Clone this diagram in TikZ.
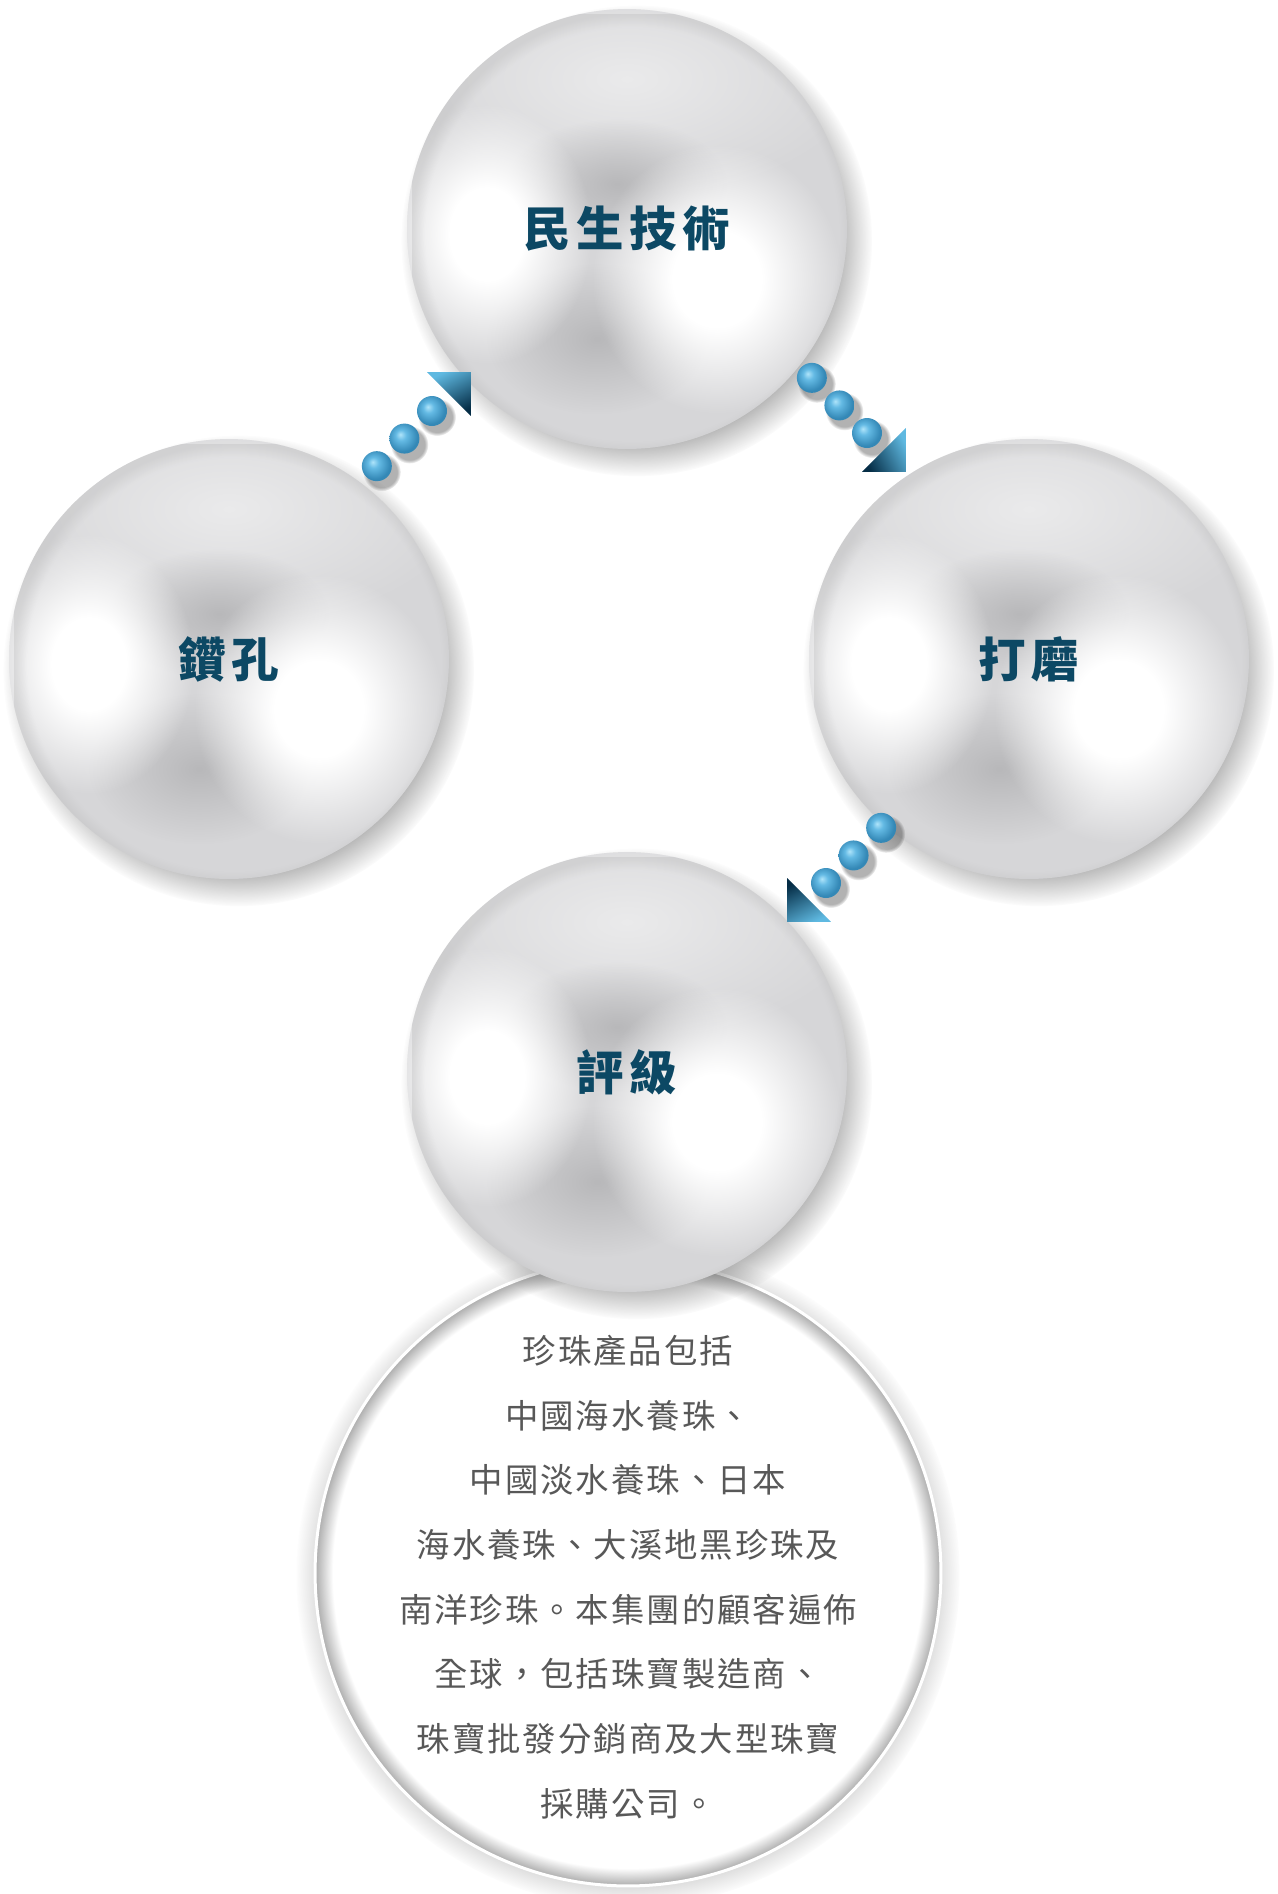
\documentclass[tikz,border=0pt]{standalone}
\usepackage{fontspec}
\usepackage{xcolor}
\usepackage{tikz}
\usetikzlibrary{calc,shadows,fadings}

\newfontfamily\pearlfont{Noto Sans CJK TC}[LetterSpace=12]
\newfontfamily\notefont{Noto Sans CJK TC}[LetterSpace=6]

\definecolor{pearlbase}{RGB}{214,214,216}
\definecolor{pearlshade}{RGB}{184,184,186}
\definecolor{labelblue}{RGB}{12,72,100}
\definecolor{notegray}{RGB}{88,88,88}
\definecolor{beadhi}{RGB}{175,228,250}
\definecolor{beadmid}{RGB}{100,186,228}
\definecolor{beadedge}{RGB}{52,136,182}
\definecolor{tipdark}{RGB}{5,45,70}
\definecolor{tiplight}{RGB}{95,185,225}

% shading of the small beads
\pgfdeclareradialshading{beadball}{\pgfpoint{-7bp}{7bp}}{color(0bp)=(beadhi); color(9bp)=(beadmid); color(25bp)=(beadedge); color(50bp)=(beadedge)}
% soft blobs and rim glow
\tikzfading[name=softblob, inner color=transparent!0, outer color=transparent!100]
\pgfdeclareradialshading{corefade}{\pgfpointorigin}{color(0bp)=(white); color(9bp)=(white); color(25bp)=(black); color(50bp)=(black)}
\pgfdeclarefading{softcore}{\pgfuseshading{corefade}}
\pgfdeclareradialshading{rimfade}{\pgfpointorigin}{color(0bp)=(black); color(23.5bp)=(black); color(25bp)=(white); color(50bp)=(white)}
\pgfdeclarefading{rimglow}{\pgfuseshading{rimfade}}

\tikzset{
  pearl/.style={circle, minimum size=8.8cm, inner sep=0pt, fill=pearlbase,
    font=\pearlfont\bfseries\fontsize{27}{32}\selectfont, text=labelblue,
    circular drop shadow={shadow xshift=.18cm, shadow yshift=-.22cm, shadow scale=1.07, fill=black!55, opacity=.55},
    path picture={
      \coordinate (m) at (path picture bounding box.center);
      \fill[white, opacity=.5, path fading=softblob] ($(m)+(0,-150)$) ellipse (240 and 120);
      \fill[pearlshade, path fading=softblob] ($(m)+(-10,-45)$) ellipse (110 and 65);
      \fill[pearlshade, path fading=softblob] ($(m)+(-30,110)$) ellipse (110 and 75);
      \fill[white, path fading=softcore] ($(m)+(-140,5)$) ellipse (105 and 130);
      \fill[white, path fading=softcore] ($(m)+(90,50)$) ellipse (125 and 135);
      \fill[black!30, opacity=.3, path fading=rimglow] ($(m)+(-215,-215)$) rectangle ($(m)+(225,225)$);
    }},
  notecircle/.style={circle, minimum size=12.52cm, inner sep=0pt, fill=white, draw=white, line width=.06cm,
    circular drop shadow={shadow xshift=0cm, shadow yshift=-.04cm, shadow scale=1.06, fill=black!50, opacity=.6},
    path picture={
      \fill[black!35, path fading=rimglow] (path picture bounding box.south west) rectangle (path picture bounding box.north east);
    }},
  notetext/.style={align=center, inner sep=0pt, text=notegray,
    font=\notefont\fontsize{19}{36.8}\selectfont},
  beadarrow/.pic={
    \pgfmathsetmacro\tipangle{-(#1)-18}
    \foreach \bead in {-78,-39,0}{
      \fill[black, opacity=.3, path fading=circle with fuzzy edge 20 percent] ($(#1:\bead)+(5,6)$) circle (19);
      \shade[shading=beadball] (#1:\bead) circle (15);
    }
    \shade[top color=tiplight, bottom color=tipdark, shading angle=\tipangle]
      ($(#1:24)+(#1+90:31)$) -- (#1:55) -- ($(#1:24)+(#1-90:31)$) -- cycle;
  }
}

\begin{document}
\begin{tikzpicture}[x=0.02cm, y=-0.02cm]
        \path[use as bounding box, fill=white] (0,0) rectangle (1278,1894);

        % text circle under the last pearl
        \node [notecircle] (note) at (628,1573) {};
        \node [notetext] (notetext) at (628,1577) {珍珠產品包括\\中國海水養珠、\\中國淡水養珠、日本\\海水養珠、大溪地黑珍珠及\\南洋珍珠。本集團的顧客遍佈\\全球，包括珠寶製造商、\\珠寶批發分銷商及大型珠寶\\採購公司。};

        % the four pearls
        \node [pearl] (tech) at (627,229) {民生技術};
        \node [pearl] (hole) at (229,659) {鑽孔};
        \node [pearl] (polish) at (1029,659) {打磨};
        \node [pearl] (grade) at (627,1072) {評級};

        % bead arrows between them
        \pic at ($(hole)!.5!(tech)+(4,-33)$) {beadarrow=-45};
        \pic at ($(tech)!.5!(polish)+(39,-11)$) {beadarrow=45};
        \pic at ($(polish)!.5!(grade)+(-2,17.5)$) {beadarrow=135};
\end{tikzpicture}
\end{document}
